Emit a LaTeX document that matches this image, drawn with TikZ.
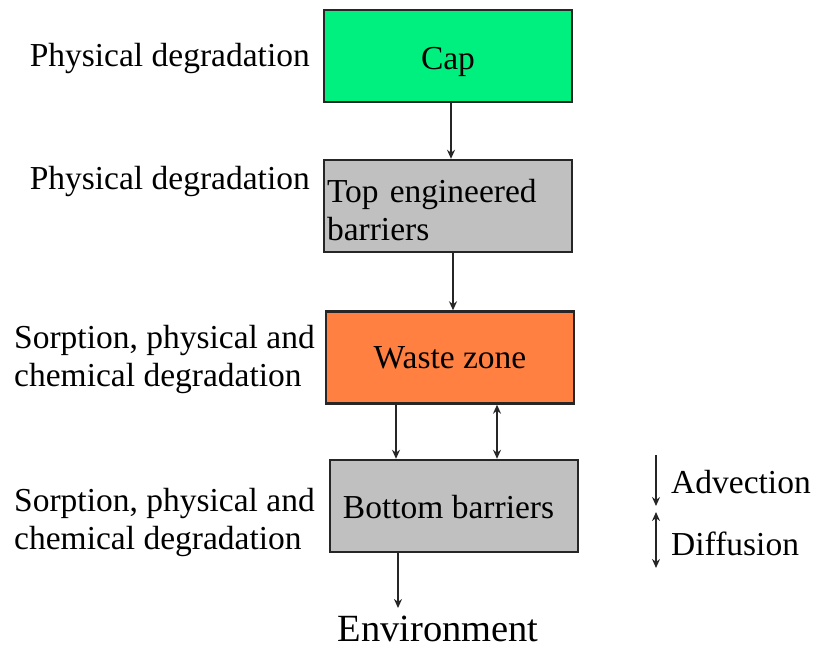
\documentclass[tikz,border=0pt]{standalone}
\usepackage{fontspec}
\setmainfont{Liberation Serif}
\usetikzlibrary{arrows.meta}
\definecolor{capgreen}{RGB}{0,240,128}
\definecolor{boxgray}{RGB}{192,192,192}
\definecolor{wasteorange}{RGB}{255,128,64}
\begin{document}
\begin{tikzpicture}[x=1pt,y=-1pt,
  layerbox/.style={draw=black!85,line width=2.4pt,minimum width=248pt,minimum height=92pt,inner sep=0pt,
    font=\fontsize{33.5}{38}\selectfont},
  lbl/.style={font=\fontsize{33.5}{38}\selectfont,inner sep=0pt},
  flow/.style={line width=1.7pt,draw=black!85,-{Stealth[length=9pt,width=8pt]}},
  flowboth/.style={line width=1.7pt,draw=black!85,{Stealth[length=9pt,width=8pt]}-{Stealth[length=9pt,width=8pt]}}]
\useasboundingbox (0,0) rectangle (813,650);
% layers
\node[layerbox,fill=capgreen,text height=27pt,text depth=0pt] (cap) at (448,56) {Cap};
\node[layerbox,fill=boxgray,align=left,text width=242pt] (top) at (448,206) {\rule{0pt}{32pt}Top engineered\\barriers};
\node[layerbox,fill=wasteorange] (waste) at (450,357.5) {Waste zone};
\node[layerbox,fill=boxgray,text height=26pt,text depth=2pt] (bottom) at (454,506) {\hspace*{-11pt}Bottom barriers};
\node[lbl,font=\fontsize{38.5}{42}\selectfont] (env) at (438,629) {Environment};
% left labels
\node[lbl,anchor=east] (l1) at (310,58) {Physical degradation};
\node[lbl,anchor=east] (l2) at (310,181) {Physical degradation};
\node[lbl,anchor=west,align=left] (l3) at (14,359) {Sorption, physical and\\chemical degradation};
\node[lbl,anchor=west,align=left] (l4) at (14,522) {Sorption, physical and\\chemical degradation};
% connectors
\draw[flow] (cap.south -| 451,0) -- (top.north -| 451,0);
\draw[flow] (top.south -| 453,0) -- (waste.north -| 453,0);
\draw[flow] (waste.south -| 396,0) -- (bottom.north -| 396,0);
\draw[flowboth] (waste.south -| 497,0) -- (bottom.north -| 497,0);
\coordinate (envtop) at (398,608);
\draw[flow] (bottom.south -| 398,0) -- (envtop);
% legend
\coordinate (a1) at (656,455);
\coordinate (a2) at (656,506);
\coordinate (d1) at (656,512);
\coordinate (d2) at (656,568);
\draw[flow] (a1) -- (a2);
\draw[flowboth] (d1) -- (d2);
\node[lbl,anchor=west] (adv) at (671,482) {Advection};
\node[lbl,anchor=west] (dif) at (671,544) {Diffusion};
\end{tikzpicture}
\end{document}
